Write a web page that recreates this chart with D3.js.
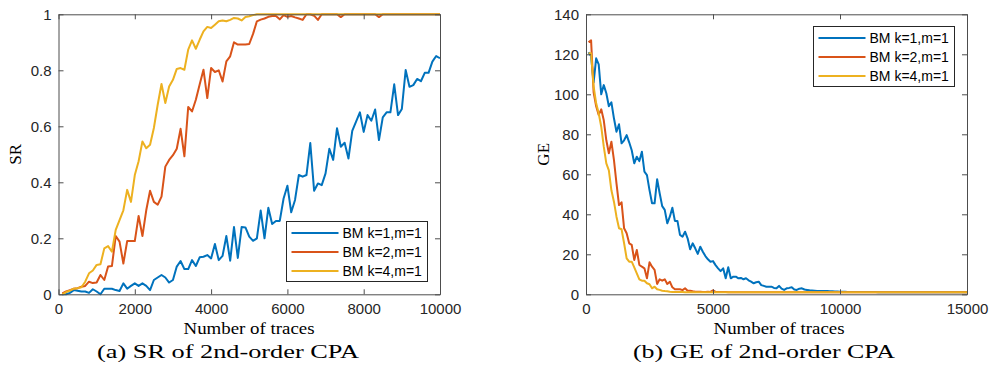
<!DOCTYPE html>
<html>
<head>
<meta charset="utf-8">
<script src="https://cdn.jsdelivr.net/npm/d3@7"></script>
<style>
  body { margin: 0; background: #fff; }
  .tick text { font-family: "Liberation Sans", Arial, sans-serif; font-size: 15px; fill: #262626; }
  .tick line { stroke: #4d4d4d; }
  .domain { stroke: #4d4d4d; }
  .serif { font-family: "Liberation Serif", "Times New Roman", serif; fill: #000; }
  .legText { font-family: "Liberation Sans", Arial, sans-serif; font-size: 14px; fill: #000; }
</style>
</head>
<body>
<div id="chart"></div>
<script>
// Canvas attributes
var width = 989;
var height = 370;

// Series names and colours (MATLAB defaults)
var seriesNames = ["BM k=1,m=1", "BM k=2,m=1", "BM k=4,m=1"];
var seriesColors = ["#0072BD", "#D95319", "#EDB120"];

// Panel (a): success rate, sampled every 100 traces
var srTraces = d3.range(100, 10001, 100);
var srTicks = [0, 2000, 4000, 6000, 8000, 10000];
var srYTicks = [0, 0.2, 0.4, 0.6, 0.8, 1];

var srK1 = [0,0,0.005,0.015,0.013,0.01,0.01,0.005,0.018,0.01,
  0,0.02,0.02,0.02,0.015,0.012,0.039,0.02,0.03,0.039,
  0.03,0.039,0.03,0.015,0.051,0.06,0.069,0.06,0.042,0.051,
  0.099,0.119,0.09,0.09,0.122,0.101,0.132,0.134,0.14,0.128,
  0.18,0.122,0.137,0.208,0.12,0.24,0.13,0.24,0.239,0.206,
  0.191,0.2,0.299,0.2,0.309,0.251,0.262,0.262,0.342,0.388,
  0.293,0.337,0.426,0.42,0.426,0.54,0.37,0.396,0.39,0.432,
  0.52,0.48,0.593,0.527,0.541,0.485,0.584,0.617,0.65,0.58,
  0.64,0.62,0.66,0.551,0.632,0.65,0.65,0.75,0.64,0.662,
  0.801,0.741,0.747,0.769,0.761,0.791,0.791,0.831,0.851,0.843];

var srK2 = [0.003,0.01,0.015,0.02,0.022,0.027,0.03,0.045,0.04,0.042,
  0.069,0.051,0.099,0.101,0.208,0.188,0.11,0.19,0.19,0.19,
  0.28,0.208,0.3,0.37,0.33,0.32,0.349,0.456,0.48,0.497,
  0.52,0.591,0.493,0.669,0.653,0.695,0.749,0.802,0.701,0.808,
  0.794,0.8,0.76,0.832,0.85,0.9,0.892,0.892,0.892,0.894,
  0.93,0.975,0.981,0.985,0.991,0.994,0.994,0.982,0.997,0.991,
  0.994,0.989,0.985,0.98,1,1,0.995,0.98,1,1,
  1,1,1,0.99,1,1,1,1,1,1,
  1,1,1,0.99,1,1,1,1,1,1,
  1,1,1,1,1,1,1,1,1,1];

var srK4 = [0,0.008,0.013,0.02,0.022,0.025,0.045,0.075,0.085,0.105,
  0.107,0.164,0.172,0.152,0.23,0.265,0.3,0.373,0.33,0.426,
  0.475,0.546,0.522,0.534,0.594,0.677,0.751,0.683,0.742,0.766,
  0.805,0.808,0.802,0.874,0.907,0.877,0.909,0.939,0.955,0.951,
  0.963,0.975,0.978,0.975,0.98,0.987,0.985,0.978,0.99,0.993,
  0.997,1,1,1,1,1,1,1,1,1,
  1,1,1,1,1,1,1,1,1,1,
  1,1,1,1,1,1,1,1,1,1,
  1,1,1,1,1,1,1,1,1,1,
  1,1,1,1,1,1,1,1,1,1];

// Panel (b): guessing entropy, sampled every 100 traces
var geTraces = d3.range(100, 15001, 100);
var geTicks = [0, 5000, 10000, 15000];
var geYTicks = [0, 20, 40, 60, 80, 100, 120, 140];

var geK1 = [121,119,106,118,115,100,104.6,100.5,94,96,
  88,81.3,85,75.5,77,79.6,76,72,65.5,68.8,
  66.6,71.3,61.3,59.6,52.1,45.5,45.5,57.5,50.5,44.1,
  42.2,35.5,38.8,43.3,36.7,36.7,29.7,28.8,31.3,28,
  22.5,25.5,23,20.2,23.8,21.3,19.1,17.5,16.3,16.6,
  14.6,13,11.6,13,8,13.5,8,8.8,8.8,8,
  8.2,7.5,8,7,6.3,5.5,6,6.3,4.6,4.2,
  3.8,3.8,3.8,3.2,3,4.2,2.8,2.2,3,3.2,
  3.5,2.4,2.2,2.8,3,2.4,2.2,2,1.9,1.8,
  1.7,1.7,1.6,1.6,1.6,1.5,1.5,1.4,1.4,1.3,
  1.3,1.3,1.2,1.2,1.2,1.2,1.1,1.1,1.1,1.1,
  1.1,1.1,1.1,1.1,1,1,1,1,1,1,
  1,1,1,1,1,1,1,1,1,1,
  1,1,1,1,1,1,1,1,1,1,
  1,1,1,1,1,1,1,1,1,1];

var geK2 = [126,127,101,94,89.7,92.5,87,77,70.5,76.3,
  67.2,55.5,44.6,46,33,30.5,25.5,24.7,17.2,22.2,
  14.7,13.8,13,8,16,13.8,12.2,5.2,7.5,6.8,
  7.5,5.2,6.3,3.5,2.5,2.5,2.5,2.1,3,1.8,
  1.8,1.5,1.3,1.3,1.3,1.2,1.2,1.3,1.2,2,
  1.2,1.1,1.1,1.1,1.1,1,1,1,1,1,
  1,1,1,1,1,1,1,1,1,1,
  1,1,1,1,1,1,1,1,1,1,
  1,1,1,1,1,1,1,1,1,1,
  1,1,1,1,1,1,1,1,1,1,
  1,1,1,1,1,1,1,1,1,1,
  1,1,1,1,1,1,1,1,1,1,
  1,1,1,1,1,1,1,1,1,1,
  1,1,1,1,1,1,1,1,1,1,
  1,1,1,1,1,1,1,1,1,1];

var geK4 = [120.5,120.5,104,95.5,90.5,83.8,73.8,65.5,62,52,
  46.3,38.8,33,32.5,25.5,18,16.3,16.3,13.5,10.5,
  7.5,6.8,6.8,5.5,5,3,3.8,2.5,2.2,1.8,
  1.6,1.5,1.3,1.2,1.2,1.1,1.1,1.1,1,1,
  1,1,1,1,1,1,1,1,1,1,
  1,1,1,1,1,1,1,1,1,1,
  1,1,1,1,1,1,1,1,1,1,
  1,1,1,1,1,1,1,1,1,1,
  1,1,1,1,1,1,1,1,1,1,
  1,1,1,1,1,1,1,1,1,1,
  1,1,1,1,1,1,1,1,1,1,
  1,1,1,1,1,1,1,1,1,1,
  1,1,1,1,1,1,1,1,1,1,
  1,1,1,1,1,1,1,1,1,1,
  1,1,1,1,1,1,1,1,1,1];

// Create svg canvas
var svg = d3.select("#chart")
  .append("svg")
  .attr("width", width)
  .attr("height", height);

// Draw one MATLAB-style panel
function drawPanel(opt) {
  var xScale = d3.scaleLinear().domain(opt.xDomain).range([opt.left, opt.right]);
  var yScale = d3.scaleLinear().domain(opt.yDomain).range([opt.bottom, opt.top]);
  var g = svg.append("g");

  // lines first so the box sits on top
  var line = d3.line()
    .x(function(d) { return xScale(d[0]); })
    .y(function(d) { return yScale(d[1]); });

  opt.series.forEach(function(vals, i) {
    var pts = opt.traces.map(function(t, j) { return [t, vals[j]]; });
    g.append("path")
      .datum(pts)
      .attr("fill", "none")
      .attr("stroke", seriesColors[i])
      .attr("stroke-width", 2)
      .attr("stroke-linejoin", "round")
      .attr("d", line);
  });

  // axes with inward ticks, boxed
  g.append("g")
    .attr("transform", "translate(0," + opt.bottom + ")")
    .call(d3.axisBottom(xScale).tickValues(opt.xTicks).tickSize(-5).tickSizeOuter(0).tickPadding(9)
      .tickFormat(d3.format("d")));
  g.append("g")
    .attr("transform", "translate(0," + opt.top + ")")
    .call(d3.axisTop(xScale).tickValues(opt.xTicks).tickSize(-5).tickSizeOuter(0).tickFormat(""));
  g.append("g")
    .attr("transform", "translate(" + opt.left + ",0)")
    .call(d3.axisLeft(yScale).tickValues(opt.yTicks).tickSize(-5).tickSizeOuter(0).tickPadding(7)
      .tickFormat(d3.format("~g")));
  g.append("g")
    .attr("transform", "translate(" + opt.right + ",0)")
    .call(d3.axisRight(yScale).tickValues(opt.yTicks).tickSize(-5).tickSizeOuter(0).tickFormat(""));

  // axis labels
  g.append("text")
    .attr("class", "serif")
    .attr("x", opt.xLabelX)
    .attr("y", 334)
    .attr("text-anchor", "middle")
    .attr("font-size", 16)
    .attr("textLength", 131)
    .attr("lengthAdjust", "spacingAndGlyphs")
    .text("Number of traces");
  g.append("text")
    .attr("class", "serif")
    .attr("transform", "translate(" + opt.yLabelX + "," + (opt.top + opt.bottom) / 2 + ")rotate(-90)")
    .attr("text-anchor", "middle")
    .attr("font-size", 17)
    .text(opt.yLabel);
  g.append("text")
    .attr("class", "serif")
    .attr("x", opt.captionX)
    .attr("y", 358)
    .attr("text-anchor", "middle")
    .attr("font-size", 18)
    .attr("textLength", 262)
    .attr("lengthAdjust", "spacingAndGlyphs")
    .text(opt.caption);

  // legend
  var leg = g.append("g").attr("transform", "translate(" + opt.legend[0] + "," + opt.legend[1] + ")");
  leg.append("rect")
    .attr("width", 141)
    .attr("height", 60)
    .attr("fill", "#fff")
    .attr("stroke", "#262626")
    .attr("stroke-width", 1);
  seriesNames.forEach(function(name, i) {
    var yy = 11.5 + i * 19;
    leg.append("line")
      .attr("x1", 5).attr("x2", 52)
      .attr("y1", yy).attr("y2", yy)
      .attr("stroke", seriesColors[i])
      .attr("stroke-width", 2);
    leg.append("text")
      .attr("class", "legText")
      .attr("x", 56)
      .attr("y", yy + 5)
      .text(name);
  });
}

drawPanel({
  left: 58.5, right: 440, top: 14.3, bottom: 294.3,
  xDomain: [0, 10000], yDomain: [0, 1],
  xTicks: srTicks, yTicks: srYTicks,
  traces: srTraces, series: [srK1, srK2, srK4],
  yLabel: "SR", yLabelX: 21, xLabelX: 249,
  caption: "(a) SR of 2nd-order CPA", captionX: 228,
  legend: [286.5, 221.5]
});

drawPanel({
  left: 586, right: 967, top: 14.3, bottom: 294.3,
  xDomain: [0, 15000], yDomain: [0, 140],
  xTicks: geTicks, yTicks: geYTicks,
  traces: geTraces, series: [geK1, geK2, geK4],
  yLabel: "GE", yLabelX: 549, xLabelX: 779,
  caption: "(b) GE of 2nd-order CPA", captionX: 764,
  legend: [813.5, 26.5]
});
</script>
</body>
</html>
